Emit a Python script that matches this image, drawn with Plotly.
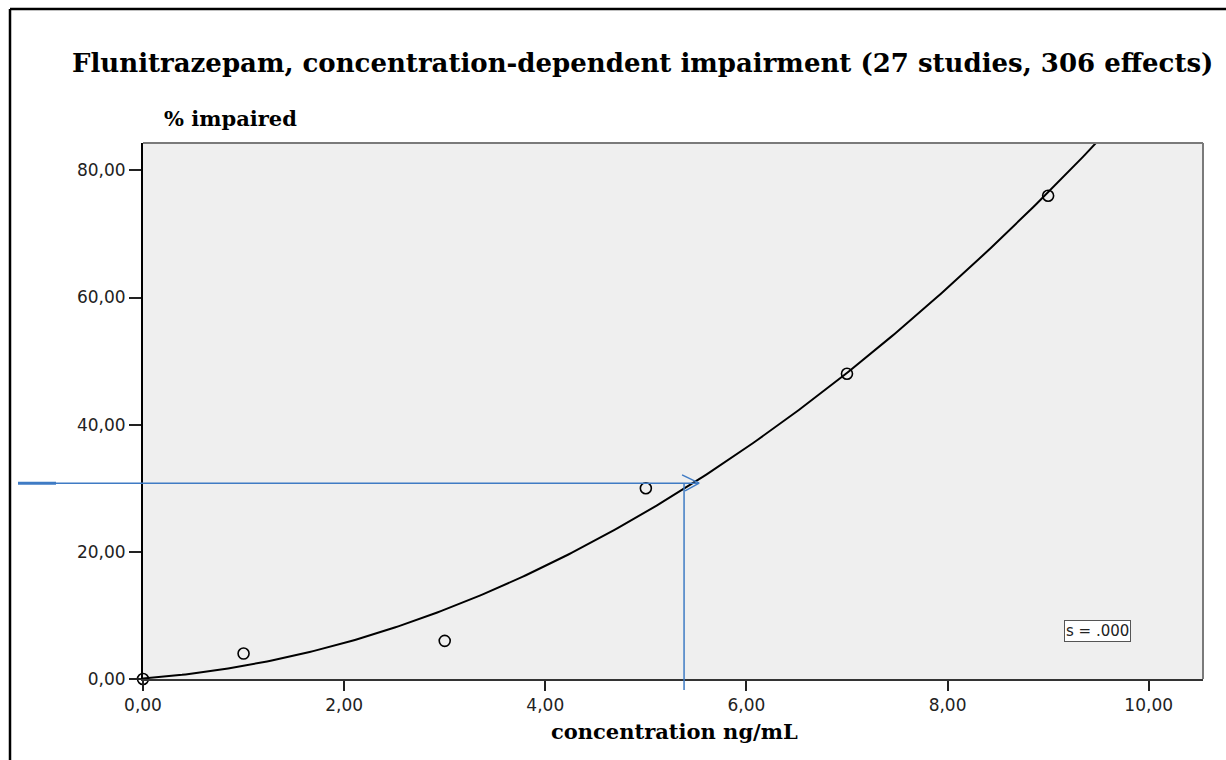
import numpy as np
import plotly.graph_objects as go

# Observed impairment by concentration
concentration = [0, 1, 3, 5, 7, 9]
pct_impaired = [0, 4, 6, 30, 48, 76]

x_ticks = [0, 2, 4, 6, 8, 10]
y_ticks = [0, 20, 40, 60, 80]
x_range = [0, 10.54]
y_range = [0, 84.3]

# Reading line: 30.8 % impairment -> about 5.38 ng/mL
read_pct = 30.8
read_conc = 5.38

# Quadratic curve estimation fitted to the observations
coef = np.polyfit(concentration, pct_impaired, 2)
fit_x = np.linspace(x_range[0], x_range[1], 300)
fit_y = np.polyval(coef, fit_x)

W, H = 1226, 760
L, R, T, B = 143, 23, 143, 81
PW, PH = W - L - R, H - T - B


def px(xpix):
    return (xpix - L) / PW


def py(ypix):
    return (H - B - ypix) / PH


fig = go.Figure()
fig.add_trace(go.Scatter(
    x=fit_x, y=fit_y, mode="lines",
    line=dict(color="black", width=2),
    hoverinfo="skip", showlegend=False,
))
fig.add_trace(go.Scatter(
    x=concentration, y=pct_impaired, mode="markers",
    marker=dict(symbol="circle-open", size=11, color="black",
                line=dict(color="black", width=1.6)),
    showlegend=False, cliponaxis=False,
))

blue = "#3F7BC4"
bw = 1.5
shapes = [
    # plot-area frame (top and right)
    dict(type="line", xref="paper", yref="paper", x0=0, x1=1, y0=1, y1=1,
         line=dict(color="#7a7a7a", width=2)),
    dict(type="line", xref="paper", yref="paper", x0=1, x1=1, y0=0, y1=1,
         line=dict(color="#7a7a7a", width=2)),
    # outer page frame
    dict(type="line", xref="paper", yref="paper",
         x0=px(10), x1=px(10), y0=py(H), y1=py(9),
         line=dict(color="black", width=2.5)),
    dict(type="line", xref="paper", yref="paper",
         x0=px(10), x1=px(W), y0=py(9), y1=py(9),
         line=dict(color="black", width=2.5)),
    # reading line, outside the plot area
    dict(type="line", xref="paper", yref="y",
         x0=px(18), x1=0, y0=read_pct, y1=read_pct,
         line=dict(color=blue, width=bw)),
    dict(type="line", xref="paper", yref="y",
         x0=px(18), x1=px(56), y0=read_pct, y1=read_pct,
         line=dict(color=blue, width=3)),
    # reading line, inside the plot area
    dict(type="line", xref="x", yref="y", x0=0, x1=5.53, y0=read_pct, y1=read_pct,
         line=dict(color=blue, width=bw)),
    dict(type="line", xref="x", yref="y", x0=5.36, x1=5.53, y0=32.1, y1=read_pct,
         line=dict(color=blue, width=bw)),
    dict(type="line", xref="x", yref="y", x0=5.53, x1=5.39, y0=read_pct, y1=29.6,
         line=dict(color=blue, width=bw)),
    dict(type="line", xref="x", yref="paper", x0=read_conc, x1=read_conc,
         y0=py(690), y1=read_pct / y_range[1],
         line=dict(color=blue, width=bw)),
]

annotations = [
    dict(text="<b>Flunitrazepam, concentration-dependent impairment (27 studies, 306 effects)</b>",
         xref="paper", yref="paper", x=px(642), y=py(63),
         xanchor="center", yanchor="middle", showarrow=False,
         font=dict(family="DejaVu Serif", size=26, color="black")),
    dict(text="<b>% impaired</b>",
         xref="paper", yref="paper", x=px(162), y=py(118),
         xanchor="left", yanchor="middle", showarrow=False,
         font=dict(family="DejaVu Serif", size=21, color="black")),
    dict(text="<b>concentration ng/mL</b>",
         xref="paper", yref="paper", x=px(674), y=py(731),
         xanchor="center", yanchor="middle", showarrow=False,
         font=dict(family="DejaVu Serif", size=21, color="black")),
    dict(text="s = .000", x=9.49, y=7.5, xref="x", yref="y",
         showarrow=False, bgcolor="white", bordercolor="#555555", borderwidth=1, borderpad=1,
         font=dict(family="DejaVu Sans", size=15, color="#222222")),
]

fig.update_layout(
    width=W, height=H,
    margin=dict(l=L, r=R, t=T, b=B),
    paper_bgcolor="white",
    plot_bgcolor="#EFEFEF",
    separators=", ",
    shapes=shapes,
    annotations=annotations,
    showlegend=False,
)
fig.update_xaxes(
    range=x_range, tickvals=x_ticks, tickformat=".2f",
    showgrid=False, zeroline=False,
    showline=True, linecolor="#333333", linewidth=2,
    ticks="outside", ticklen=10, tickwidth=2, tickcolor="#222222",
    tickfont=dict(family="DejaVu Sans", size=17, color="#222222"),
)
fig.update_yaxes(
    range=y_range, tickvals=y_ticks, tickformat=".2f",
    showgrid=False, zeroline=False,
    showline=True, linecolor="black", linewidth=2,
    ticks="outside", ticklen=12, tickwidth=2, tickcolor="#222222",
    tickfont=dict(family="DejaVu Sans", size=17, color="#222222"),
)

fig.write_html("out.html")
